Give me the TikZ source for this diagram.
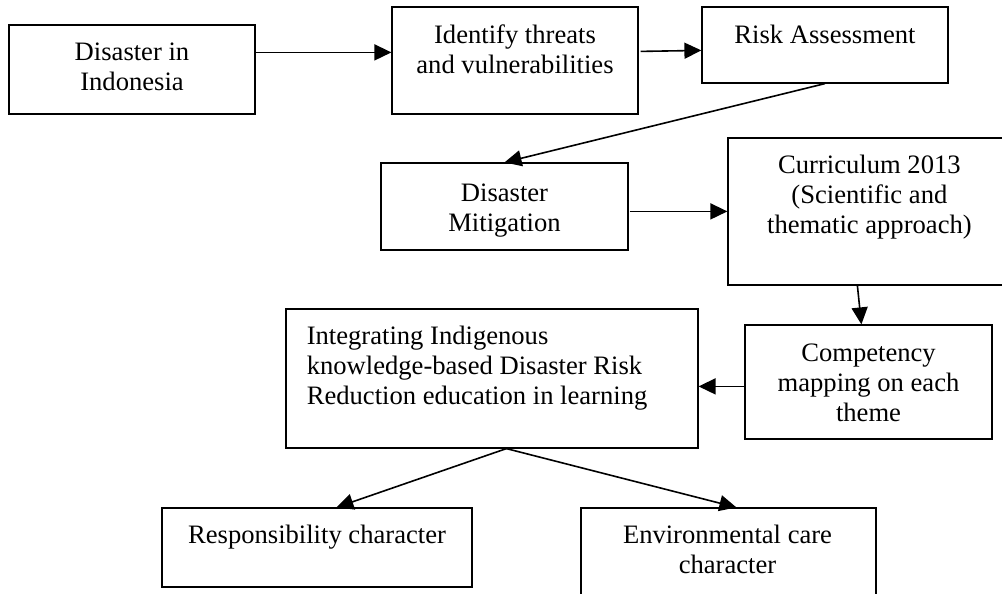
\documentclass[tikz,border=0pt]{standalone}
\usepackage{fontspec}
\setmainfont{Liberation Serif}
\usetikzlibrary{arrows.meta,fit,positioning}
\begin{document}
\begin{tikzpicture}[x=0.5pt,y=-0.5pt,
  box/.style={draw=black, line width=0.6pt, inner sep=0pt, fill=none},
  lbl/.style={inner sep=0pt, anchor=north, align=center, font=\fontsize{13.3pt}{15pt}\selectfont},
  lbll/.style={inner sep=0pt, anchor=north west, align=left, font=\fontsize{13.3pt}{15pt}\selectfont},
  arr/.style={line width=0.8pt, -{Triangle[length=8.5pt,width=8pt]}}]
\useasboundingbox (0,0) rectangle (1002,594);
\clip (0,0) rectangle (1002,594);
% boxes
\node[box, fit={(9,25)(255,114)}] (b1) {};
\node[box, fit={(392,7)(638,114)}] (b2) {};
\node[box, fit={(702,7)(948,83)}] (b3) {};
\node[box, fit={(381,163)(628,250)}] (b4) {};
\node[box, fit={(728,138)(1012,285)}] (b5) {};
\node[box, fit={(745,325)(992,439)}] (b6) {};
\node[box, fit={(286,309)(698,448)}] (b7) {};
\node[box, fit={(162,508)(472,587)}] (b8) {};
\node[box, fit={(581,508)(876,610)}] (b9) {};
% texts
\node[lbl] (t1) at ([yshift=-9pt]b1.north) {Disaster in\\Indonesia};
\node[lbl] (t2) at ([yshift=-9pt]b2.north) {Identify threats\\and vulnerabilities};
\node[lbl] (t3) at ([yshift=-9pt]b3.north) {Risk Assessment};
\node[lbl] (t4) at ([yshift=-10.5pt]b4.north) {Disaster\\Mitigation};
\node[lbl] (t5) at ([xshift=71pt,yshift=-8.5pt]b5.north west) {Curriculum 2013\\(Scientific and\\thematic approach)};
\node[lbl] (t6) at ([yshift=-9.5pt]b6.north) {Competency\\mapping on each\\theme};
\node[lbll] (t7) at ([xshift=10.5pt,yshift=-8.5pt]b7.north west) {Integrating Indigenous\\knowledge-based Disaster Risk\\Reduction education in learning};
\node[lbl] (t8) at ([yshift=-8.5pt]b8.north) {Responsibility character};
\node[lbl] (t9) at ([xshift=-0.5pt,yshift=-8.5pt]b9.north) {Environmental care\\character};
% connectors
\draw[arr] ([yshift=-14pt]b1.north east) -- ([yshift=-23pt]b2.north west);
\draw[arr] ([xshift=1pt,yshift=-22.5pt]b2.north east) -- ([yshift=-22pt]b3.north west);
\draw[arr] (b3.south) -- (b4.north);
\draw[arr] ([xshift=0.5pt,yshift=-24.5pt]b4.north east) -- ([yshift=-37pt]b5.north west);
\draw[arr] ([xshift=65pt]b5.south west) -- ([xshift=58.5pt]b6.north west);
\draw[arr] ([yshift=-31pt]b6.north west) -- ([yshift=-39pt]b7.north east);
\coordinate (fork) at ([xshift=110.5pt]b7.south west);
\draw[arr] (fork) -- ([xshift=87.5pt]b8.north west);
\draw[arr] (fork) -- ([xshift=78pt]b9.north west);
\end{tikzpicture}
\end{document}
